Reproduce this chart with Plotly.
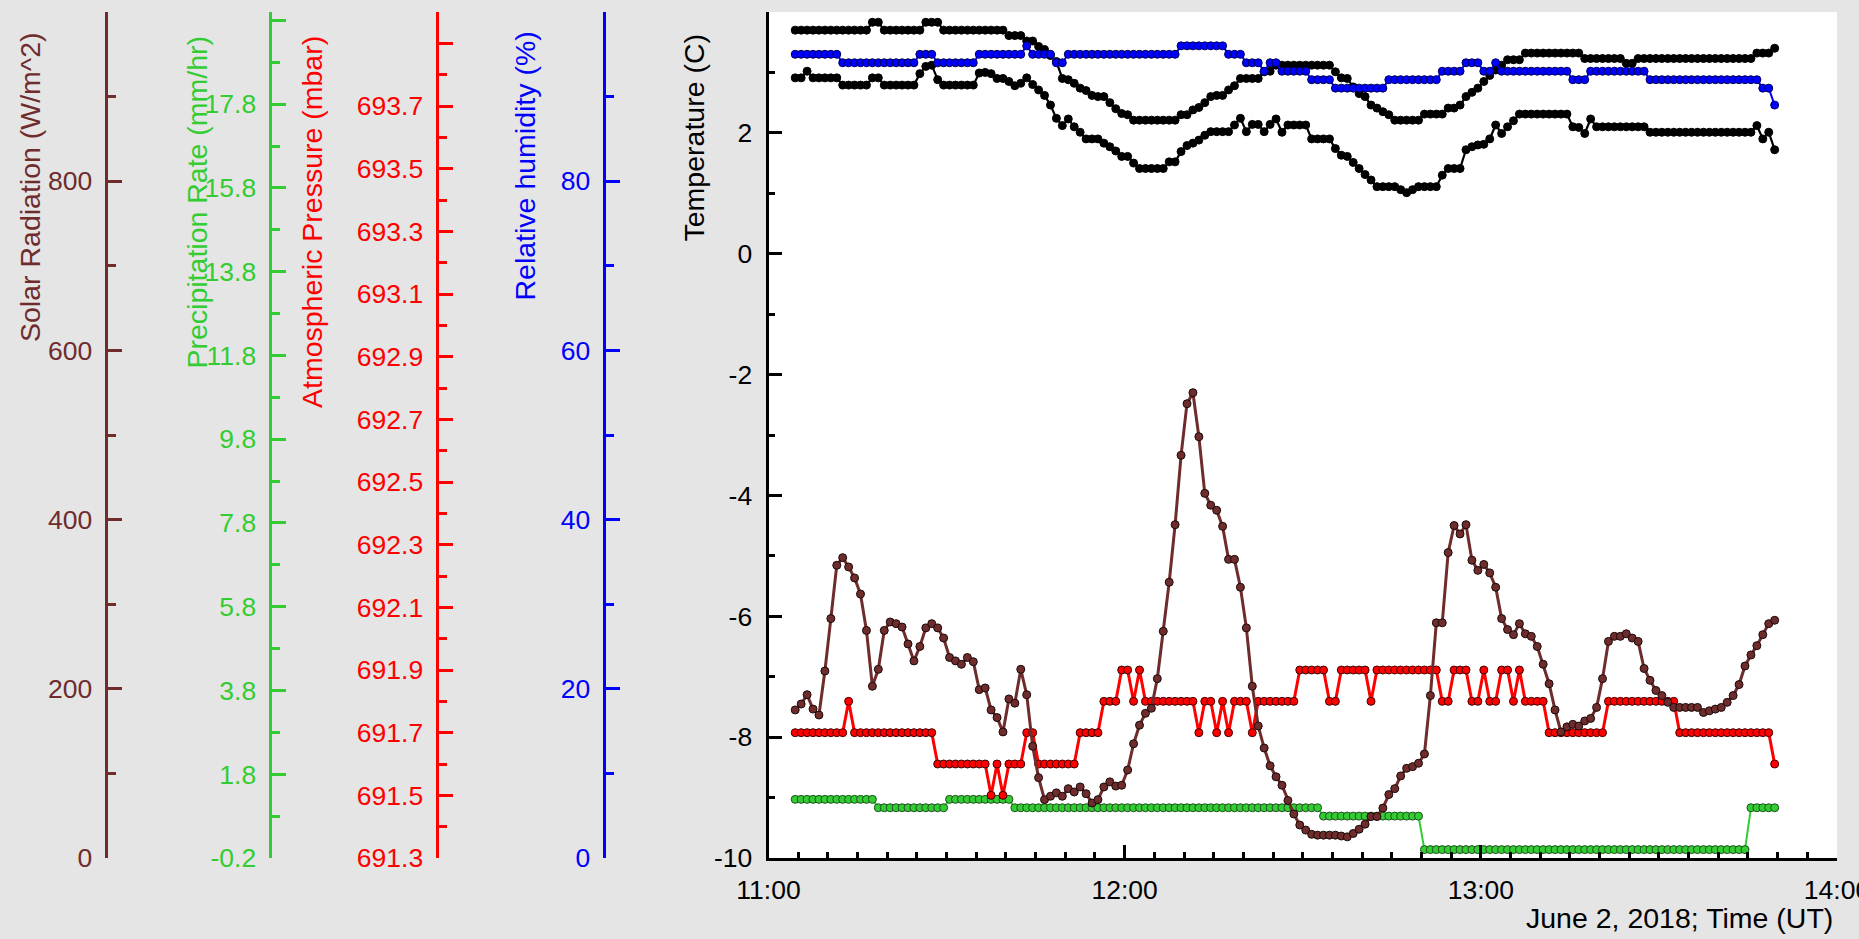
import pandas as pd
import plotly.graph_objects as go

# ---------------------------------------------------------------------------
# Weather station record, June 2, 2018 (one reading per minute)
# ---------------------------------------------------------------------------
start_time = "2018-06-02 11:04:30"
n_samples = 166

# Temperature sensors (C) as (value, number of consecutive readings)
temp_upper_runs = [
    (3.70, 13), (3.83, 2), (3.70, 7), (3.83, 3), (3.70, 11), (3.61, 3), (3.52, 2),
    (3.43, 1), (3.38, 1), (3.28, 1), (3.18, 1), (2.90, 1), (2.88, 1), (2.82, 1),
    (2.74, 1), (2.70, 1), (2.62, 1), (2.60, 2), (2.50, 1), (2.40, 1), (2.32, 1),
    (2.30, 1), (2.21, 8), (2.30, 2), (2.38, 1), (2.42, 1), (2.50, 1), (2.60, 1),
    (2.62, 2), (2.71, 1), (2.78, 1), (2.90, 4), (3.01, 1), (3.02, 1), (3.12, 10),
    (3.01, 1), (2.91, 1), (2.90, 1), (2.76, 1), (2.65, 1), (2.60, 1), (2.46, 1),
    (2.41, 1), (2.35, 1), (2.30, 1), (2.21, 5), (2.31, 4), (2.41, 2), (2.46, 1),
    (2.60, 1), (2.67, 1), (2.74, 1), (2.85, 1), (2.95, 1), (3.04, 1), (3.12, 1),
    (3.21, 3), (3.32, 10), (3.23, 7), (3.15, 2), (3.23, 20), (3.32, 3), (3.40, 1),
]
temp_lower_runs = [
    (2.91, 2), (3.02, 1), (2.91, 5), (2.79, 5), (2.91, 2), (2.79, 6), (2.98, 1),
    (3.10, 1), (3.12, 1), (2.88, 1), (2.79, 6), (2.99, 1), (3.00, 1), (2.98, 1),
    (2.90, 2), (2.85, 1), (2.78, 1), (2.82, 1), (2.91, 1), (2.80, 1), (2.71, 1),
    (2.62, 1), (2.46, 1), (2.24, 1), (2.12, 1), (2.23, 1), (2.10, 1), (2.01, 1),
    (1.90, 3), (1.83, 1), (1.77, 1), (1.70, 1), (1.61, 2), (1.50, 1), (1.41, 5),
    (1.52, 2), (1.69, 1), (1.79, 1), (1.83, 1), (1.88, 1), (1.96, 1), (2.02, 4),
    (2.13, 1), (2.24, 1), (2.02, 1), (2.14, 2), (2.02, 1), (2.14, 1), (2.23, 1),
    (2.01, 1), (2.13, 4), (1.90, 4), (1.74, 1), (1.63, 1), (1.61, 1), (1.51, 1),
    (1.41, 1), (1.31, 1), (1.22, 1), (1.11, 4), (1.06, 1), (1.01, 1), (1.06, 1),
    (1.11, 4), (1.30, 1), (1.41, 3), (1.72, 1), (1.77, 1), (1.80, 1), (1.81, 1),
    (1.90, 1), (2.13, 1), (1.99, 1), (2.10, 1), (2.20, 1), (2.31, 9), (2.10, 1),
    (2.09, 1), (1.99, 1), (2.23, 1), (2.10, 9), (2.01, 18), (2.12, 1), (1.90, 1),
    (2.01, 1), (1.72, 1),
]

# Relative humidity (%)
humidity_runs = [
    (95, 8), (94, 13), (95, 3), (94, 7), (95, 8), (96, 1), (95, 4), (94, 2),
    (95, 19), (96, 8), (95, 3), (94, 3), (93, 1), (94, 2), (93, 5), (92, 4),
    (91, 9), (92, 9), (93, 4), (94, 3), (93, 2), (94, 1), (93, 12), (92, 3),
    (93, 10), (92, 19), (91, 2), (89, 1),
]

# Atmospheric pressure (mbar)
pressure_runs = [
    (691.7, 9), (691.8, 1), (691.7, 14), (691.6, 9), (691.5, 1), (691.6, 1),
    (691.5, 1), (691.6, 3), (691.7, 2), (691.6, 7), (691.7, 4), (691.8, 3),
    (691.9, 2), (691.8, 1), (691.9, 1), (691.8, 9), (691.7, 1), (691.8, 2),
    (691.7, 1), (691.8, 1), (691.7, 1), (691.8, 3), (691.7, 1), (691.8, 7),
    (691.9, 5), (691.8, 2), (691.9, 5), (691.8, 1), (691.9, 11), (691.8, 2),
    (691.9, 3), (691.8, 2), (691.9, 1), (691.8, 2), (691.9, 2), (691.8, 1),
    (691.9, 1), (691.8, 4), (691.7, 10), (691.8, 12), (691.7, 16), (691.6, 1),
]

# Precipitation rate (mm/hr)
precip_runs = [
    (1.2, 14), (1.0, 12), (1.2, 11), (1.0, 52), (0.8, 17), (0.0, 55), (1.0, 5),
]

# Solar radiation (W/m^2)
solar = [
    175, 182, 193, 176, 169, 221, 283, 346, 355, 344,
    331, 312, 269, 203, 223, 269, 279, 277, 273, 253,
    233, 250, 272, 277, 272, 260, 237, 233, 229, 237,
    232, 199, 201, 175, 166, 149, 188, 183, 223, 193,
    132, 95, 69, 73, 77, 73, 82, 78, 84, 76,
    65, 69, 84, 90, 85, 86, 104, 135, 157, 171,
    177, 212, 268, 326, 394, 476, 537, 550, 498, 431,
    417, 411, 392, 353, 353, 320, 272, 203, 156, 130,
    109, 96, 86, 68, 52, 39, 33, 28, 27, 27,
    27, 27, 26, 25, 29, 34, 40, 49, 49, 59,
    75, 82, 97, 106, 108, 112, 123, 192, 278, 278,
    361, 393, 383, 394, 352, 340, 347, 337, 320, 283,
    270, 264, 277, 265, 262, 250, 229, 206, 175, 149,
    155, 158, 156, 162, 165, 178, 212, 256, 262, 262,
    265, 260, 256, 224, 210, 198, 192, 184, 178, 178,
    178, 178, 178, 172, 174, 176, 178, 184, 192, 205,
    227, 240, 251, 264, 277, 281,
]

# Axis ranges and tick labels
temp_range = [-10, 4]
solar_range = [0, 1000]
precip_range = [-0.2, 20.0]
pressure_range = [691.3, 694.0]
humidity_range = [0, 100]

temp_ticks = [-10, -8, -6, -4, -2, 0, 2, 4]
solar_ticks = [0, 200, 400, 600, 800, 1000]
precip_ticks = [-0.2, 1.8, 3.8, 5.8, 7.8, 9.8, 11.8, 13.8, 15.8, 17.8, 19.8]
pressure_ticks = [691.3, 691.5, 691.7, 691.9, 692.1, 692.3, 692.5,
                  692.7, 692.9, 693.1, 693.3, 693.5, 693.7, 693.9]
humidity_ticks = [0, 20, 40, 60, 80, 100]


def expand(runs):
    out = []
    for value, count in runs:
        out.extend([value] * count)
    return out


times = pd.date_range(start_time, periods=n_samples, freq="1min")
temp_upper = expand(temp_upper_runs)
temp_lower = expand(temp_lower_runs)
humidity = expand(humidity_runs)
pressure = expand(pressure_runs)
precip = expand(precip_runs)

# ---------------------------------------------------------------------------
# Styling
# ---------------------------------------------------------------------------
W, H = 1859, 939
FONT = "Liberation Sans, Arial, Helvetica, sans-serif"
TICK_SIZE = 26.5
TITLE_SIZE = 28.5
BG = "#e5e5e5"
BROWN = "#6e2c2c"
GREEN = "#33cc33"
RED = "#ff0000"
BLUE = "#0000ff"

left_px, right_px = 768.5, 1837
top_px, bottom_px = 12, 858


def px_x(x):
    return x / W


def px_y(y):
    return (bottom_px - y) / (bottom_px - top_px)


def labels(ticks, fmt):
    # the last tick at the top of each scale carries no label
    return [fmt(t) for t in ticks[:-1]] + [""]


def minor_between(ticks):
    return [(a + b) / 2 for a, b in zip(ticks[:-1], ticks[1:])]


def side_axis(color, rng, ticks, fmt, pos, minor_vals):
    return dict(
        overlaying="y", anchor="free", position=pos, side="left",
        range=rng, autorange=False, showgrid=False, zeroline=False,
        showline=True, linecolor=color, linewidth=3,
        tickmode="array", tickvals=ticks, ticktext=labels(ticks, fmt),
        ticks="inside", ticklen=14, tickwidth=3, tickcolor=color,
        tickfont=dict(family=FONT, size=TICK_SIZE, color=color),
        ticklabelstandoff=7,
        minor=dict(tickmode="array", tickvals=minor_vals, ticks="inside",
                   ticklen=8, tickwidth=3, tickcolor=color, showgrid=False),
    )


fig = go.Figure()


def add_series(y, axis, color, marker_color, outline, width=2.2):
    fig.add_trace(go.Scatter(
        x=times, y=y, yaxis=axis, mode="lines+markers",
        line=dict(color=color, width=width),
        marker=dict(size=8, color=marker_color, line=dict(color=outline, width=1)),
        showlegend=False, hoverinfo="skip",
    ))


add_series(temp_upper, "y", "black", "black", "black")
add_series(temp_lower, "y", "black", "black", "black")
add_series(precip, "y2", GREEN, GREEN, "#1f4f1f", width=2)
add_series(pressure, "y3", RED, RED, "#400000", width=3)
add_series(solar, "y4", BROWN, BROWN, "#1a0a0a", width=3)
add_series(humidity, "y5", BLUE, BLUE, "#000050", width=2)

day = "2018-06-02 "
major_x = pd.date_range(day + "11:00", day + "14:00", freq="15min")
minor_x = pd.date_range(day + "11:00", day + "14:00", freq="5min")
major_text = [t.strftime("%H:%M") if t.minute == 0 else "" for t in major_x]

fig.update_layout(
    width=W, height=H,
    margin=dict(l=0, r=0, t=top_px, b=H - bottom_px, autoexpand=False),
    paper_bgcolor=BG, plot_bgcolor="white",
    font=dict(family=FONT, size=TICK_SIZE, color="black"),
    xaxis=dict(
        domain=[px_x(left_px), px_x(right_px)], anchor="y", type="date",
        range=[day + "11:00", day + "14:00"],
        tickmode="array", tickvals=list(major_x), ticktext=major_text,
        ticks="inside", ticklen=13, tickwidth=3, tickcolor="black",
        showline=True, linewidth=3, linecolor="black",
        showgrid=False, zeroline=False, ticklabelstandoff=6,
        ticklabeloverflow="allow",
        tickfont=dict(family=FONT, size=TICK_SIZE, color="black"),
        minor=dict(tickmode="array", tickvals=list(minor_x), ticks="inside",
                   ticklen=6, tickwidth=3, tickcolor="black", showgrid=False),
    ),
    yaxis=dict(
        range=temp_range, autorange=False, anchor="x",
        tickmode="array", tickvals=temp_ticks,
        ticktext=labels(temp_ticks, lambda v: f"{v:d}"),
        ticks="inside", ticklen=13, tickwidth=3, tickcolor="black",
        showline=True, linewidth=3, linecolor="black",
        showgrid=False, zeroline=False, ticklabelstandoff=8,
        tickfont=dict(family=FONT, size=TICK_SIZE, color="black"),
        minor=dict(tickmode="array", tickvals=minor_between(temp_ticks),
                   ticks="inside", ticklen=6, tickwidth=3, tickcolor="black",
                   showgrid=False),
    ),
    yaxis2=side_axis(GREEN, precip_range, precip_ticks, lambda v: f"{v:.1f}",
                     px_x(269.5), minor_between(precip_ticks)),
    yaxis3=side_axis(RED, pressure_range, pressure_ticks, lambda v: f"{v:.1f}",
                     px_x(436.5), minor_between(pressure_ticks) + [694.0]),
    yaxis4=side_axis(BROWN, solar_range, solar_ticks, lambda v: f"{v:d}",
                     px_x(105.5), minor_between(solar_ticks)),
    yaxis5=side_axis(BLUE, humidity_range, humidity_ticks, lambda v: f"{v:d}",
                     px_x(603.5), minor_between(humidity_ticks)),
)

titles = [
    ("Solar Radiation (W/m^2)", BROWN, 30, 30),
    ("Precipitation Rate (mm/hr)", GREEN, 196, 34),
    ("Atmospheric Pressure (mbar)", RED, 312, 34),
    ("Relative humidity (%)", BLUE, 524, 30),
    ("Temperature (C)", "black", 693, 33),
]
for text, color, cx, top in titles:
    fig.add_annotation(
        text=text, textangle=-90, showarrow=False,
        xref="paper", yref="paper", x=px_x(cx), y=px_y(top),
        xanchor="center", yanchor="top",
        font=dict(family=FONT, size=TITLE_SIZE, color=color),
    )

fig.add_annotation(
    text="June 2, 2018; Time (UT)", showarrow=False,
    xref="paper", yref="paper", x=px_x(1835), y=px_y(918),
    xanchor="right", yanchor="middle",
    font=dict(family=FONT, size=TITLE_SIZE, color="black"),
)

fig.write_html("out.html")
